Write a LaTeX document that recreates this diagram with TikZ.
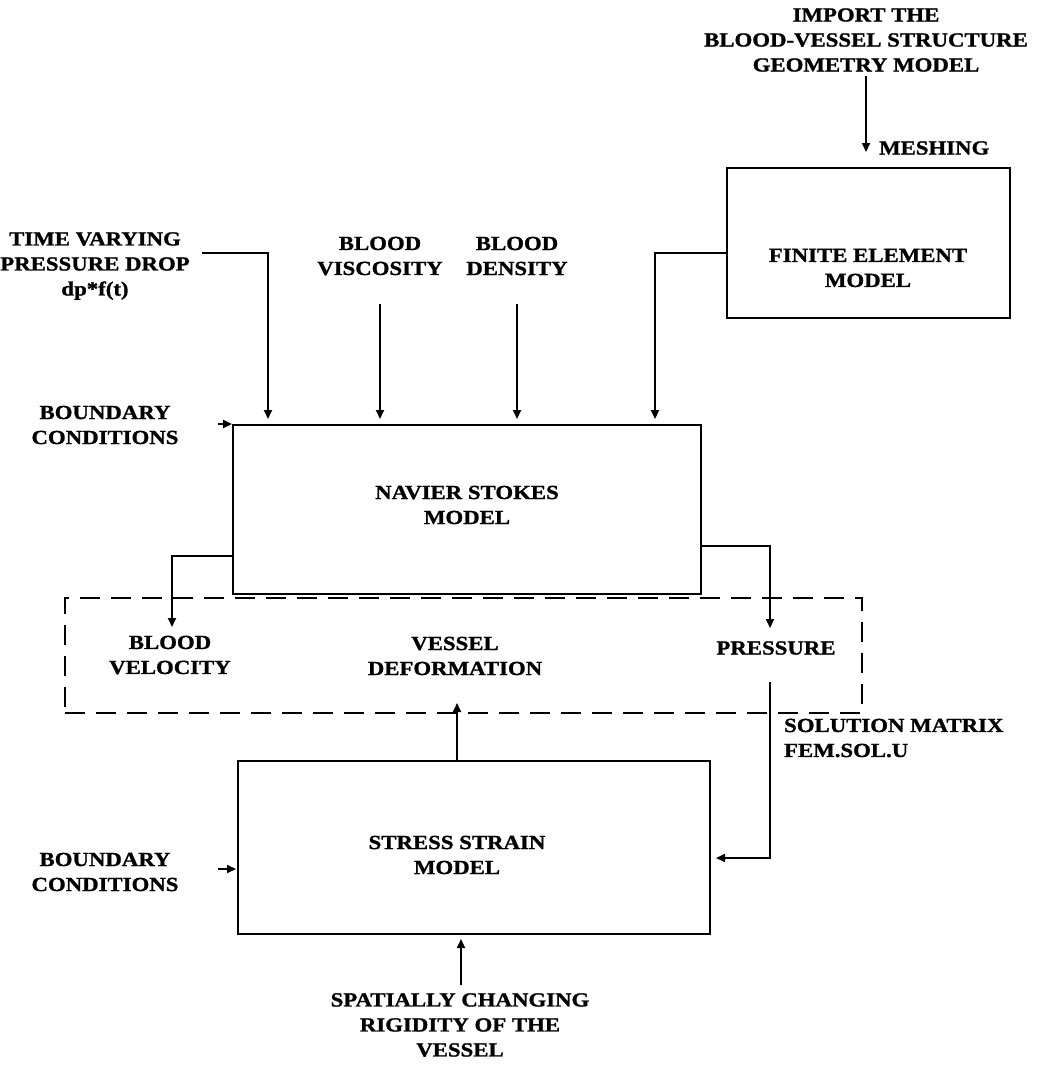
\documentclass[tikz,border=0pt]{standalone}
\usepackage{fontspec}
\setmainfont{Liberation Serif}[BoldFeatures={FakeStretch=1.14, FakeBold=1.2}]
\usetikzlibrary{arrows.meta}
\begin{document}
\begin{tikzpicture}[x=1pt,y=-1pt,
  line width=2.2pt,
  lbl/.style={font=\fontsize{20}{25}\selectfont\bfseries, align=center, inner sep=0pt},
  blk/.style={draw, rectangle, inner sep=0pt, line width=2.2pt},
  arr/.style={-{Triangle[length=9pt,width=8pt]}, line width=2pt},
  grp/.style={draw, rectangle, dash pattern=on 20pt off 11pt, line width=2pt, inner sep=0pt}]
\useasboundingbox (0,0) rectangle (1041,1089);

% blocks
\node[blk, minimum width=283pt, minimum height=150pt] (fem) at (868.5,243) {};
\node[lbl] at (868,268) {FINITE ELEMENT\\MODEL};
\node[blk, minimum width=468pt, minimum height=169pt] (ns) at (467,509.5) {};
\node[lbl] at (467,505) {NAVIER STOKES\\MODEL};
\node[blk, minimum width=472pt, minimum height=173pt] (ss) at (474,847.5) {};
\node[lbl] at (457,855) {STRESS STRAIN\\MODEL};
\node[grp, minimum width=797pt, minimum height=115pt] (grp) at (463.5,655.5) {};

% labels
\node[lbl] (imp) at (866,40) {IMPORT THE\\BLOOD-VESSEL STRUCTURE\\GEOMETRY MODEL};
\node[lbl, anchor=west] (mesh) at (878,148) {MESHING};
\node[lbl] (tv) at (95,266) {TIME VARYING\\PRESSURE DROP\\dp*f(t)};
\node[lbl] (bv) at (380,256) {BLOOD\\VISCOSITY};
\node[lbl] (bd) at (517,256) {BLOOD\\DENSITY};
\node[lbl] (bc1) at (105,425) {BOUNDARY\\CONDITIONS};
\node[lbl] (vel) at (170,655) {BLOOD\\VELOCITY};
\node[lbl] (def) at (455,656) {VESSEL\\DEFORMATION};
\node[lbl] (pr) at (776,648) {PRESSURE};
\node[lbl, align=left, anchor=west] (sol) at (783,738) {SOLUTION MATRIX\\FEM.SOL.U};
\node[lbl] (bc2) at (105,872) {BOUNDARY\\CONDITIONS};
\node[lbl] (sp) at (460,1025) {SPATIALLY CHANGING\\RIGIDITY OF THE\\VESSEL};

% connector ends
\coordinate (impA) at (866,76);
\coordinate (impB) at (866,152);
\coordinate (tvA) at (202,253);
\coordinate (tvB) at (268,419);
\coordinate (bvA) at (380,304);
\coordinate (bvB) at (380,419);
\coordinate (bdA) at (517,304);
\coordinate (bdB) at (517,419);
\coordinate (femB) at (655,419);
\coordinate (bc1A) at (218,424);
\coordinate (bc1B) at (232,424);
\coordinate (velB) at (172,627);
\coordinate (prB) at (770,628);
\coordinate (prA) at (770,682);
\coordinate (prC) at (716,858);
\coordinate (defB) at (457,703);
\coordinate (bc2A) at (218,869);
\coordinate (bc2B) at (236,869);
\coordinate (spA) at (461,985);
\coordinate (spB) at (461,939);

% connectors
\draw[arr] (impA) -- (impB);
\draw[arr] (tvA) -| (tvB);
\draw[arr] (bvA) -- (bvB);
\draw[arr] (bdA) -- (bdB);
\draw[arr] (fem.west |- 0,253) -| (femB);
\draw[arr] (bc1A) -- (bc1B);
\draw[arr] (ns.west |- 0,556) -| (velB);
\draw[arr] (ns.east |- 0,546) -| (prB);
\draw[arr] (prA) |- (prC);
\draw[arr] (ss.north -| defB) -- (defB);
\draw[arr] (bc2A) -- (bc2B);
\draw[arr] (spA) -- (spB);
\end{tikzpicture}
\end{document}
